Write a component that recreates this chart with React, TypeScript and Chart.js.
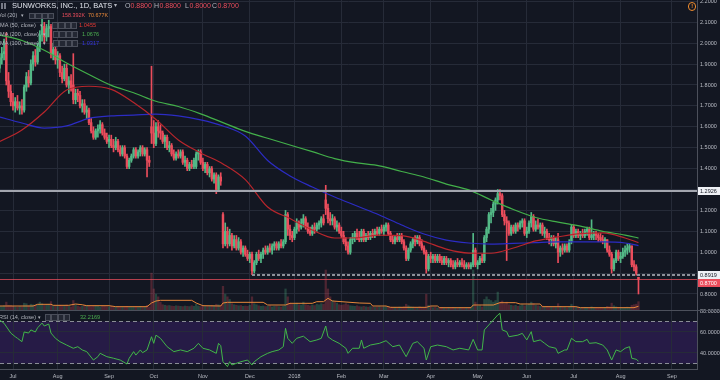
import React, { useEffect, useRef } from 'react';
import { Chart, registerables } from 'chart.js';
Chart.register(...registerables);

const FONT = "'Liberation Sans', Arial, sans-serif";
const BG = '#131722';
const GRID = '#262b38';
const AXIS_LINE = '#4c505b';
const TEXT = '#b9bcc4';
const UP = '#53b987';
const DOWN = '#eb4d5c';
const MA50_COLOR = '#b8262c';
const MA100_COLOR = '#2c2cc4';
const MA200_COLOR = '#43b04a';
const VOLMA_COLOR = '#e8883a';
const RSI_COLOR = '#41b649';

// ---- time axis ----
const MONTH_LABELS = ['Jul', 'Aug', 'Sep', 'Oct', 'Nov', 'Dec', '2018', 'Feb', 'Mar', 'Apr', 'May', 'Jun', 'Jul', 'Aug', 'Sep'];
const MONTH_IDX = [6, 26, 49, 69, 91, 112, 132, 153, 172, 193, 214, 236, 257, 278, 301];
const X_MIN = 0.18;
const X_MAX = 312.2;

// ---- price axis ----
const PRICE_TICKS = [0.8, 0.9, 1.0, 1.1, 1.2, 1.3, 1.4, 1.5, 1.6, 1.7, 1.8, 1.9, 2.0, 2.1, 2.2];
const PRICE_MIN = 0.7234;
const PRICE_MAX = 2.2067;
const RSI_TICKS = [40, 60, 80];
const RSI_MIN = 24.76;
const RSI_MAX = 80.95;
const RSI_UPPER = 70;
const RSI_LOWER = 30;
const VOL_MAX = 5890;

// ---- drawn levels ----
const RESISTANCE = 1.2926;
const SUPPORT = 0.8919;
const SUPPORT_FROM = 113;

// ---- daily OHLC (Jun 2017 .. Aug 2018) ----
const OPEN = [
  1.88, 1.93, 1.95, 1.99, 1.82, 1.77,
  1.72, 1.70, 1.72, 1.69, 1.70, 1.68, 1.79, 1.84, 1.81, 1.90, 1.94, 1.91, 1.98, 2.04, 2.08, 2.03, 2.07, 2.08, 1.95, 1.97,
  1.92, 1.94, 1.86, 1.83, 1.88, 1.80, 1.82, 1.80, 1.73, 1.76, 1.75, 1.70, 1.71, 1.67, 1.68, 1.62, 1.58, 1.55, 1.58, 1.59, 1.61, 1.57, 1.55,
  1.53, 1.54, 1.51, 1.50, 1.53, 1.49, 1.47, 1.50, 1.46, 1.41, 1.44, 1.46, 1.49, 1.46, 1.48, 1.50, 1.47, 1.49, 1.44, 1.60,
  1.57, 1.52, 1.60, 1.58, 1.57, 1.53, 1.55, 1.50, 1.51, 1.47, 1.45, 1.47, 1.46, 1.48, 1.43, 1.44, 1.40, 1.42, 1.41, 1.41, 1.47, 1.48,
  1.43, 1.40, 1.42, 1.38, 1.40, 1.35, 1.37, 1.30, 1.36, 1.18, 1.04, 1.10, 1.04, 1.08, 1.03, 1.06, 1.02, 1.05, 1.00, 1.02, 0.99,
  0.97, 0.99, 0.91, 0.95, 0.99, 0.97, 0.99, 1.01, 1.00, 1.02, 1.01, 1.03, 1.04, 1.02, 1.04, 1.03, 1.05, 1.18, 1.11, 1.08,
  1.07, 1.11, 1.14, 1.12, 1.14, 1.16, 1.12, 1.10, 1.09, 1.12, 1.11, 1.13, 1.14, 1.16, 1.25, 1.21, 1.16, 1.15, 1.16, 1.12, 1.13,
  1.10, 1.08, 1.05, 1.03, 1.00, 1.06, 1.07, 1.09, 1.07, 1.06, 1.10, 1.06, 1.08, 1.07, 1.09, 1.08, 1.10, 1.09, 1.11,
  1.10, 1.12, 1.13, 1.09, 1.06, 1.05, 1.07, 1.06, 1.08, 1.05, 1.02, 0.97, 1.01, 1.04, 1.06, 1.05, 1.07, 1.04, 1.02, 1.00, 0.92,
  0.98, 0.97, 0.98, 0.96, 0.98, 0.96, 0.95, 0.97, 0.95, 0.96, 0.94, 0.93, 0.95, 0.94, 0.95, 0.94, 0.93, 0.94, 0.93, 0.94, 1.01,
  0.94, 0.95, 0.97, 0.96, 1.07, 1.11, 1.18, 1.19, 1.23, 1.25, 1.28, 1.27, 1.18, 1.15, 1.14, 1.09, 1.12, 1.10, 1.13, 1.12, 1.14, 1.15,
  1.09, 1.10, 1.14, 1.17, 1.11, 1.13, 1.12, 1.13, 1.09, 1.10, 1.07, 1.06, 1.07, 1.04, 1.06, 1.00, 1.02, 1.01, 1.03, 1.01, 1.05,
  1.12, 1.08, 1.10, 1.08, 1.09, 1.08, 1.10, 1.11, 1.07, 1.08, 1.09, 1.08, 1.07, 1.06, 1.05, 1.06, 1.01, 0.99, 0.92, 0.96, 1.00,
  0.97, 0.98, 1.00, 1.01, 1.02, 1.03, 0.94, 0.93, 0.88,
];
const HIGH = [
  1.95, 1.98, 2.02, 2.05, 1.86, 1.80,
  1.76, 1.74, 1.75, 1.72, 1.73, 1.80, 1.86, 1.87, 1.92, 1.96, 1.97, 2.00, 2.06, 2.12, 2.10, 2.09, 2.11, 2.09, 2.00, 1.99,
  1.96, 1.95, 1.89, 1.90, 1.90, 1.84, 1.85, 1.95, 1.78, 1.78, 1.77, 1.73, 1.73, 1.70, 1.69, 1.64, 1.60, 1.59, 1.61, 1.63, 1.62, 1.59, 1.57,
  1.56, 1.56, 1.54, 1.55, 1.54, 1.51, 1.51, 1.51, 1.47, 1.45, 1.47, 1.50, 1.50, 1.49, 1.51, 1.51, 1.50, 1.50, 1.46, 1.89,
  1.63, 1.62, 1.63, 1.61, 1.58, 1.56, 1.56, 1.53, 1.52, 1.49, 1.48, 1.49, 1.49, 1.49, 1.46, 1.45, 1.43, 1.44, 1.45, 1.48, 1.49, 1.49,
  1.45, 1.43, 1.43, 1.41, 1.41, 1.38, 1.38, 1.37, 1.38, 1.19, 1.14, 1.12, 1.11, 1.09, 1.08, 1.08, 1.07, 1.06, 1.03, 1.03, 1.01,
  1.00, 1.00, 0.96, 1.00, 1.01, 1.00, 1.02, 1.03, 1.03, 1.04, 1.04, 1.05, 1.05, 1.05, 1.06, 1.06, 1.20, 1.19, 1.13, 1.10,
  1.12, 1.16, 1.15, 1.16, 1.18, 1.17, 1.14, 1.12, 1.13, 1.14, 1.14, 1.15, 1.17, 1.18, 1.32, 1.23, 1.19, 1.18, 1.17, 1.15, 1.14,
  1.12, 1.10, 1.07, 1.05, 1.07, 1.09, 1.10, 1.11, 1.10, 1.11, 1.11, 1.09, 1.10, 1.10, 1.11, 1.11, 1.12, 1.12, 1.13,
  1.13, 1.14, 1.14, 1.10, 1.08, 1.08, 1.09, 1.09, 1.09, 1.06, 1.03, 1.02, 1.05, 1.07, 1.08, 1.08, 1.08, 1.06, 1.03, 1.01, 0.99,
  1.00, 0.99, 0.99, 0.99, 0.99, 0.98, 0.98, 0.98, 0.97, 0.97, 0.96, 0.96, 0.97, 0.96, 0.97, 0.96, 0.95, 0.95, 0.95, 1.09, 1.02,
  0.96, 0.98, 0.99, 1.08, 1.12, 1.19, 1.21, 1.24, 1.26, 1.30, 1.30, 1.28, 1.20, 1.17, 1.15, 1.13, 1.13, 1.14, 1.14, 1.15, 1.16, 1.16,
  1.12, 1.15, 1.19, 1.18, 1.15, 1.16, 1.14, 1.14, 1.12, 1.11, 1.09, 1.08, 1.08, 1.07, 1.09, 1.03, 1.04, 1.04, 1.04, 1.06, 1.13,
  1.13, 1.11, 1.11, 1.10, 1.11, 1.11, 1.12, 1.12, 1.155, 1.10, 1.10, 1.09, 1.09, 1.08, 1.07, 1.06, 1.03, 1.00, 0.97, 1.01, 1.01,
  1.00, 1.02, 1.03, 1.04, 1.04, 1.03, 0.96, 0.94, 0.88,
];
const LOW = [
  1.86, 1.90, 1.92, 1.80, 1.74, 1.70,
  1.68, 1.67, 1.68, 1.66, 1.66, 1.67, 1.77, 1.79, 1.80, 1.87, 1.89, 1.90, 1.96, 2.01, 2.00, 2.01, 2.03, 1.93, 1.92, 1.90,
  1.88, 1.84, 1.81, 1.82, 1.79, 1.76, 1.77, 1.71, 1.71, 1.72, 1.69, 1.67, 1.66, 1.64, 1.61, 1.57, 1.54, 1.54, 1.55, 1.57, 1.56, 1.54, 1.52,
  1.50, 1.50, 1.48, 1.49, 1.48, 1.46, 1.46, 1.45, 1.40, 1.40, 1.43, 1.45, 1.45, 1.45, 1.46, 1.46, 1.46, 1.36, 1.41, 1.52,
  1.50, 1.51, 1.55, 1.54, 1.52, 1.50, 1.49, 1.48, 1.46, 1.44, 1.44, 1.45, 1.45, 1.42, 1.41, 1.39, 1.39, 1.40, 1.40, 1.40, 1.44, 1.42,
  1.39, 1.38, 1.37, 1.36, 1.34, 1.33, 1.28, 1.29, 1.32, 1.02, 1.03, 1.02, 1.03, 1.01, 1.02, 1.01, 1.01, 0.99, 0.98, 0.98, 0.96,
  0.95, 0.892, 0.90, 0.94, 0.96, 0.95, 0.97, 0.99, 0.99, 1.00, 0.99, 1.01, 1.01, 1.01, 1.02, 1.02, 1.04, 1.08, 1.06, 1.05,
  1.06, 1.09, 1.10, 1.11, 1.12, 1.11, 1.09, 1.08, 1.08, 1.09, 1.10, 1.11, 1.12, 1.13, 1.18, 1.14, 1.13, 1.13, 1.11, 1.10, 1.09,
  1.07, 1.04, 1.01, 0.99, 0.99, 1.04, 1.05, 1.06, 1.05, 1.05, 1.05, 1.05, 1.06, 1.06, 1.07, 1.07, 1.08, 1.08, 1.09,
  1.08, 1.10, 1.08, 1.05, 1.04, 1.04, 1.05, 1.05, 1.04, 1.01, 0.96, 0.96, 1.00, 1.02, 1.03, 1.04, 1.03, 1.01, 0.99, 0.90, 0.91,
  0.95, 0.95, 0.95, 0.95, 0.95, 0.94, 0.94, 0.94, 0.93, 0.93, 0.92, 0.92, 0.93, 0.93, 0.93, 0.92, 0.92, 0.92, 0.92, 0.93, 0.93,
  0.92, 0.94, 0.95, 0.95, 1.05, 1.09, 1.14, 1.17, 1.20, 1.23, 1.25, 1.17, 1.13, 0.96, 1.08, 1.08, 1.09, 1.09, 1.10, 1.11, 1.12, 1.08,
  1.07, 1.09, 1.12, 1.10, 1.10, 1.11, 1.09, 1.08, 1.07, 1.06, 1.04, 1.03, 1.03, 1.02, 0.95, 0.98, 0.99, 1.00, 1.00, 1.00, 1.04,
  1.07, 1.07, 1.07, 1.06, 1.07, 1.07, 1.08, 1.06, 1.06, 1.06, 1.06, 1.05, 1.05, 1.04, 1.02, 1.00, 0.98, 0.90, 0.91, 0.95, 0.96,
  0.95, 0.97, 0.98, 0.99, 1.00, 0.93, 0.91, 0.89, 0.80,
];
const CLOSE = [
  1.93, 1.95, 1.96, 1.82, 1.77, 1.72,
  1.70, 1.72, 1.69, 1.70, 1.68, 1.79, 1.84, 1.81, 1.90, 1.94, 1.91, 1.98, 2.04, 2.08, 2.03, 2.07, 2.08, 1.95, 1.97, 1.92,
  1.94, 1.86, 1.83, 1.88, 1.80, 1.82, 1.78, 1.73, 1.76, 1.75, 1.70, 1.71, 1.67, 1.68, 1.62, 1.58, 1.55, 1.58, 1.59, 1.61, 1.57, 1.55, 1.53,
  1.54, 1.51, 1.50, 1.53, 1.49, 1.47, 1.50, 1.46, 1.41, 1.44, 1.46, 1.49, 1.46, 1.48, 1.50, 1.47, 1.49, 1.44, 1.43, 1.57,
  1.52, 1.60, 1.58, 1.57, 1.53, 1.55, 1.50, 1.51, 1.47, 1.45, 1.47, 1.46, 1.48, 1.43, 1.44, 1.40, 1.42, 1.41, 1.44, 1.47, 1.48, 1.43,
  1.40, 1.42, 1.38, 1.40, 1.35, 1.37, 1.30, 1.36, 1.34, 1.04, 1.10, 1.04, 1.08, 1.03, 1.06, 1.02, 1.05, 1.00, 1.02, 0.99, 0.97,
  0.99, 0.91, 0.95, 0.99, 0.97, 0.99, 1.01, 1.00, 1.02, 1.01, 1.03, 1.04, 1.02, 1.04, 1.03, 1.05, 1.18, 1.11, 1.08, 1.07,
  1.11, 1.14, 1.12, 1.14, 1.16, 1.12, 1.10, 1.09, 1.12, 1.11, 1.13, 1.14, 1.16, 1.14, 1.21, 1.16, 1.15, 1.16, 1.12, 1.13, 1.10,
  1.08, 1.05, 1.03, 1.00, 1.06, 1.07, 1.09, 1.07, 1.06, 1.10, 1.06, 1.08, 1.07, 1.09, 1.08, 1.10, 1.09, 1.11, 1.10,
  1.12, 1.13, 1.09, 1.06, 1.05, 1.07, 1.06, 1.08, 1.05, 1.02, 0.97, 1.01, 1.04, 1.06, 1.05, 1.07, 1.04, 1.02, 1.00, 0.92, 0.98,
  0.97, 0.98, 0.96, 0.98, 0.96, 0.95, 0.97, 0.95, 0.96, 0.94, 0.93, 0.95, 0.94, 0.95, 0.94, 0.93, 0.94, 0.93, 0.94, 1.01, 0.94,
  0.95, 0.97, 0.96, 1.07, 1.11, 1.18, 1.19, 1.23, 1.25, 1.28, 1.27, 1.18, 1.15, 1.14, 1.09, 1.12, 1.10, 1.13, 1.12, 1.14, 1.15, 1.09,
  1.10, 1.14, 1.17, 1.11, 1.13, 1.12, 1.13, 1.09, 1.10, 1.07, 1.06, 1.07, 1.04, 1.05, 1.00, 1.02, 1.01, 1.03, 1.01, 1.05, 1.12,
  1.08, 1.10, 1.08, 1.09, 1.08, 1.10, 1.11, 1.07, 1.08, 1.09, 1.08, 1.07, 1.06, 1.05, 1.06, 1.01, 0.99, 0.92, 0.96, 1.00, 0.97,
  0.98, 1.00, 1.01, 1.02, 1.03, 0.94, 0.93, 0.90, 0.87,
];
// volume in thousands
const VOLUME = [
  70, 65, 80, 150, 90, 85,
  70, 60, 55, 65, 60, 130, 120, 80, 110, 100, 90, 110, 150, 120, 90, 100, 110, 160, 80, 70,
  70, 90, 80, 85, 95, 70, 60, 180, 100, 75, 60, 70, 85, 90, 70, 65, 75, 80, 70, 60, 75, 70, 65,
  60, 70, 55, 60, 65, 50, 55, 60, 70, 55, 50, 55, 60, 50, 65, 55, 60, 90, 60, 700,
  400, 300, 250, 150, 100, 90, 80, 85, 75, 70, 80, 75, 70, 65, 75, 70, 65, 80, 70, 110, 75, 65,
  80, 70, 75, 80, 90, 85, 110, 100, 90, 450, 300, 250, 200, 120, 100, 90, 80, 85, 70, 75, 70,
  90, 250, 120, 100, 80, 70, 75, 65, 70, 80, 60, 70, 75, 65, 60, 70, 400, 250, 130, 110,
  110, 130, 100, 95, 150, 100, 90, 80, 95, 85, 110, 100, 120, 110, 760, 400, 250, 180, 150, 130, 100,
  90, 100, 120, 100, 80, 75, 70, 80, 65, 60, 70, 60, 55, 65, 60, 50, 55, 60, 50,
  55, 60, 50, 55, 45, 50, 45, 55, 50, 60, 110, 80, 60, 55, 50, 45, 60, 50, 45, 300, 90,
  60, 45, 50, 40, 45, 50, 40, 35, 45, 40, 50, 40, 35, 45, 40, 35, 40, 45, 45, 760, 150,
  70, 80, 60, 200, 250, 200, 180, 150, 180, 340, 150, 170, 120, 150, 100, 90, 80, 90, 70, 80, 100, 80,
  90, 110, 150, 120, 90, 80, 70, 75, 60, 70, 65, 55, 60, 50, 120, 70, 55, 50, 45, 60, 110,
  70, 55, 50, 45, 40, 50, 45, 40, 60, 45, 40, 35, 45, 40, 50, 70, 60, 130, 80, 60, 50,
  45, 40, 50, 55, 45, 90, 100, 110, 158.392,
];
const VOL_MA_IDX = [0, 15, 17, 23, 24, 31, 34, 37, 39, 49, 52, 66, 68, 70, 72, 86, 88, 91, 99, 100, 102, 118, 120, 128, 130, 140, 142, 145, 147, 149, 161, 166, 167, 173, 175, 191, 193, 196, 197, 211, 212, 221, 224, 231, 233, 242, 243, 258, 260, 284, 286];
const VOL_MA = [76, 76, 108, 108, 89, 89, 114, 100, 82, 82, 63, 63, 133, 171, 184, 184, 133, 82, 76, 133, 146, 146, 95, 95, 127, 127, 158, 158, 222, 171, 133, 127, 76, 76, 51, 51, 76, 76, 44, 44, 95, 95, 139, 139, 114, 114, 63, 63, 44, 44, 70.677];

// ---- moving averages (read every 10 bars) ----
const MA_IDX = [0, 10, 20, 30, 40, 50, 60, 70, 80, 90, 100, 110, 120, 130, 140, 150, 160, 170, 180, 190, 200, 210, 220, 230, 240, 250, 260, 270, 280, 286];
const MA50 = [1.529, 1.585, 1.671, 1.776, 1.794, 1.779, 1.716, 1.635, 1.537, 1.475, 1.422, 1.347, 1.216, 1.161, 1.106, 1.068, 1.069, 1.082, 1.079, 1.052, 1.015, 0.996, 0.995, 1.02, 1.054, 1.073, 1.089, 1.092, 1.068, 1.0455];
const MA100 = [1.647, 1.618, 1.594, 1.604, 1.64, 1.652, 1.656, 1.661, 1.652, 1.633, 1.604, 1.556, 1.439, 1.365, 1.312, 1.264, 1.221, 1.178, 1.13, 1.087, 1.058, 1.044, 1.039, 1.042, 1.046, 1.049, 1.049, 1.049, 1.044, 1.0317];
const MA200 = [2.039, 2.013, 1.966, 1.905, 1.85, 1.798, 1.763, 1.722, 1.697, 1.662, 1.62, 1.578, 1.545, 1.513, 1.481, 1.448, 1.427, 1.413, 1.386, 1.36, 1.326, 1.298, 1.25, 1.204, 1.166, 1.144, 1.125, 1.1, 1.082, 1.0676];

// ---- RSI (14) ----
const RSI_IDX = [0, 2, 5, 7, 8, 10, 11, 13, 14, 16, 17, 19, 20, 22, 23, 25, 27, 30, 33, 35, 37, 39, 42, 44, 45, 48, 51, 54, 57, 58, 60, 61, 63, 64, 66, 68, 69, 70, 72, 75, 78, 81, 84, 87, 89, 91, 94, 97, 98, 99, 100, 102, 103, 104, 108, 111, 113, 114, 117, 120, 122, 125, 127, 128, 129, 131, 133, 136, 139, 142, 144, 146, 147, 149, 152, 155, 156, 158, 161, 162, 163, 166, 170, 173, 176, 179, 182, 185, 187, 190, 191, 193, 196, 200, 203, 206, 210, 212, 214, 216, 217, 219, 221, 223, 224, 225, 227, 228, 232, 234, 236, 238, 239, 242, 244, 246, 249, 250, 253, 254, 256, 258, 261, 263, 264, 267, 270, 272, 274, 276, 278, 280, 282, 283, 285, 286];
const RSI_VAL = [71.4, 68.3, 59, 55.5, 54, 50.8, 60, 59, 62, 60, 64, 68.5, 65.7, 67.6, 59, 54, 50.8, 47.6, 44.5, 46, 42.9, 41.3, 33.3, 36.5, 39.7, 36.5, 35, 33.3, 29.5, 35, 41.3, 38, 42.9, 40.3, 42.9, 55.5, 49.2, 57, 54, 46, 41.3, 42.9, 41.3, 44.5, 49.2, 44.5, 42.9, 39.7, 49.2, 47, 31.7, 27, 31.7, 28.6, 31.7, 33.3, 28.6, 31.7, 36.5, 39.7, 41.3, 42.9, 46, 63.5, 54, 49.2, 54, 56, 50.8, 52.4, 54, 65.7, 55.5, 52.4, 49.2, 44.5, 39.7, 44.5, 44.5, 52.4, 44.5, 47.6, 49.2, 51.7, 46, 47.6, 36.5, 49.2, 50.8, 44.5, 33.3, 46, 47.6, 46, 42.9, 44.5, 42.9, 53, 42.9, 42.9, 62, 66.7, 71.4, 76.2, 77.8, 62, 60.3, 55.5, 57, 58.7, 52.4, 60.3, 50.8, 52.4, 49.2, 46, 44.5, 39.7, 42.9, 42.9, 54, 50.8, 50.8, 53, 49.2, 49.8, 47.6, 42.9, 33.3, 42.9, 41.3, 44.5, 46, 35, 34, 32.2169];

const LAST = CLOSE.length - 1;

function hideNearLevel(v: number) {
  return [RESISTANCE, SUPPORT, CLOSE[LAST]].some((l) => Math.abs(l - v) < 0.03);
}

const levelsPlugin = {
  id: 'levels',
  afterDatasetsDraw(chart: any) {
    const { ctx, chartArea: a, scales } = chart;
    const x = scales.x;
    const y = scales.y;
    ctx.save();
    ctx.beginPath();
    ctx.rect(a.left, a.top, a.right - a.left, a.bottom - a.top);
    ctx.clip();
    const yr = Math.round(y.getPixelForValue(RESISTANCE));
    ctx.strokeStyle = '#a3a6af';
    ctx.lineWidth = 2;
    ctx.beginPath();
    ctx.moveTo(a.left, yr);
    ctx.lineTo(a.right, yr);
    ctx.stroke();
    const ys = Math.round(y.getPixelForValue(SUPPORT));
    ctx.setLineDash([3, 2]);
    ctx.strokeStyle = '#8f929b';
    ctx.beginPath();
    ctx.moveTo(x.getPixelForValue(SUPPORT_FROM), ys);
    ctx.lineTo(a.right, ys);
    ctx.stroke();
    ctx.setLineDash([]);
    const yl = Math.round(y.getPixelForValue(CLOSE[LAST])) + 0.5;
    ctx.strokeStyle = 'rgba(235,77,92,0.75)';
    ctx.lineWidth = 1;
    ctx.beginPath();
    ctx.moveTo(a.left, yl);
    ctx.lineTo(a.right, yl);
    ctx.stroke();
    ctx.restore();
  },
  afterDraw(chart: any) {
    const { ctx, chartArea: a, scales } = chart;
    const y = scales.y;
    const H = 8;
    const boxes = [
      { v: RESISTANCE, bg: '#eef0f5', fg: '#131722' },
      { v: SUPPORT, bg: '#eef0f5', fg: '#131722' },
      { v: CLOSE[LAST], bg: DOWN, fg: '#ffffff' },
    ]
      .map((b) => ({ ...b, cy: y.getPixelForValue(b.v) }))
      .sort((p, q) => p.cy - q.cy);
    for (let i = 1; i < boxes.length; i++) {
      if (boxes[i].cy < boxes[i - 1].cy + H) boxes[i].cy = boxes[i - 1].cy + H;
    }
    ctx.save();
    ctx.font = `5.5px ${FONT}`;
    ctx.textBaseline = 'middle';
    ctx.textAlign = 'left';
    for (const b of boxes) {
      ctx.fillStyle = b.bg;
      ctx.fillRect(a.right + 1, Math.round(b.cy - H / 2), 22, H);
      ctx.fillStyle = b.fg;
      ctx.fillText(b.v.toFixed(4), a.right + 3, b.cy + 0.5);
    }
    ctx.restore();
  },
};

const rsiPlugin = {
  id: 'rsiBand',
  beforeDraw(chart: any) {
    const { ctx, chartArea: a, scales } = chart;
    const y = scales.y;
    const t = y.getPixelForValue(RSI_UPPER);
    const b = y.getPixelForValue(RSI_LOWER);
    ctx.save();
    ctx.fillStyle = '#261b46';
    ctx.fillRect(a.left, t, a.right - a.left, b - t);
    ctx.restore();
  },
  beforeDatasetsDraw(chart: any) {
    const { ctx, chartArea: a, scales } = chart;
    const y = scales.y;
    ctx.save();
    ctx.strokeStyle = '#8a8d96';
    ctx.lineWidth = 1;
    ctx.setLineDash([4, 3]);
    for (const v of [RSI_UPPER, RSI_LOWER]) {
      const py = Math.round(y.getPixelForValue(v)) + 0.5;
      ctx.beginPath();
      ctx.moveTo(a.left, py);
      ctx.lineTo(a.right, py);
      ctx.stroke();
    }
    ctx.restore();
  },
  afterDraw(chart: any) {
    const { ctx, chartArea: a } = chart;
    ctx.save();
    ctx.strokeStyle = AXIS_LINE;
    ctx.lineWidth = 1;
    ctx.beginPath();
    ctx.moveTo(0, a.top + 0.5);
    ctx.lineTo(chart.width, a.top + 0.5);
    ctx.stroke();
    ctx.restore();
  },
};

function topConfig(): any {
  const idx = OPEN.map((_, i) => i);
  const colors = CLOSE.map((c, i) => (c >= OPEN[i] ? UP : DOWN));
  const volColors = CLOSE.map((c, i) => (c >= OPEN[i] ? 'rgba(83,185,135,0.28)' : 'rgba(235,77,92,0.28)'));
  const line = (ids: number[], vals: number[], color: string, order: number, axis = 'y') => ({
    type: 'line',
    data: ids.map((x, i) => ({ x, y: vals[i] })),
    borderColor: color,
    borderWidth: 1.2,
    pointRadius: 0,
    cubicInterpolationMode: 'monotone',
    order,
    yAxisID: axis,
  });
  return {
    type: 'bar',
    data: {
      datasets: [
        line(MA_IDX, MA50, MA50_COLOR, 1),
        line(MA_IDX, MA100, MA100_COLOR, 2),
        line(MA_IDX, MA200, MA200_COLOR, 3),
        {
          type: 'bar',
          data: idx.map((i) => ({ x: i, y: [Math.min(OPEN[i], CLOSE[i]), Math.max(OPEN[i], CLOSE[i])] })),
          backgroundColor: colors,
          barThickness: 1.8,
          minBarLength: 1,
          grouped: false,
          order: 5,
          yAxisID: 'y',
        },
        {
          type: 'bar',
          data: idx.map((i) => ({ x: i, y: [LOW[i], HIGH[i]] })),
          backgroundColor: colors,
          barThickness: 1,
          grouped: false,
          order: 6,
          yAxisID: 'y',
        },
        { ...line(VOL_MA_IDX, VOL_MA, VOLMA_COLOR, 7, 'vol'), cubicInterpolationMode: 'default', tension: 0, borderWidth: 1 },
        {
          type: 'bar',
          data: idx.map((i) => ({ x: i, y: VOLUME[i] })),
          backgroundColor: volColors,
          barThickness: 1.6,
          grouped: false,
          order: 8,
          yAxisID: 'vol',
        },
      ],
    },
    options: {
      responsive: false,
      animation: false,
      devicePixelRatio: 1,
      events: [],
      layout: { padding: 0 },
      plugins: { legend: { display: false }, tooltip: { enabled: false } },
      scales: {
        x: {
          type: 'linear',
          min: X_MIN,
          max: X_MAX,
          offset: false,
          grid: { color: GRID, drawTicks: false, offset: false },
          border: { display: false },
          ticks: { display: false },
          afterBuildTicks: (s: any) => {
            s.ticks = MONTH_IDX.map((v) => ({ value: v }));
          },
          afterFit: (s: any) => {
            s.height = 0;
            s.paddingLeft = 0;
            s.paddingRight = 0;
          },
        },
        y: {
          position: 'right',
          min: PRICE_MIN,
          max: PRICE_MAX,
          grid: { color: GRID, drawTicks: false },
          border: { color: AXIS_LINE },
          ticks: {
            color: TEXT,
            font: { size: 5.5, family: FONT },
            padding: 3,
            callback: (v: number) => (hideNearLevel(v) ? '' : v.toFixed(4)),
          },
          afterBuildTicks: (s: any) => {
            s.ticks = PRICE_TICKS.map((v) => ({ value: v }));
          },
          afterFit: (s: any) => {
            s.width = 23;
            s.paddingTop = 0;
            s.paddingBottom = 0;
          },
        },
        vol: { position: 'right', display: false, min: 0, max: VOL_MAX },
      },
    },
    plugins: [levelsPlugin],
  };
}

function rsiConfig(): any {
  return {
    type: 'line',
    data: {
      datasets: [
        {
          data: RSI_IDX.map((x, i) => ({ x, y: RSI_VAL[i] })),
          borderColor: RSI_COLOR,
          borderWidth: 1,
          pointRadius: 0,
          tension: 0,
        },
      ],
    },
    options: {
      responsive: false,
      animation: false,
      devicePixelRatio: 1,
      events: [],
      layout: { padding: { top: 10 } },
      plugins: { legend: { display: false }, tooltip: { enabled: false } },
      scales: {
        x: {
          type: 'linear',
          min: X_MIN,
          max: X_MAX,
          grid: { color: GRID, drawTicks: false },
          border: { color: AXIS_LINE },
          ticks: {
            color: TEXT,
            font: { size: 5.5, family: FONT },
            padding: 4,
            autoSkip: false,
            maxRotation: 0,
            callback: (_v: number, i: number) => MONTH_LABELS[i],
          },
          afterBuildTicks: (s: any) => {
            s.ticks = MONTH_IDX.map((v) => ({ value: v }));
          },
          afterFit: (s: any) => {
            s.height = 11;
            s.paddingLeft = 0;
            s.paddingRight = 0;
          },
        },
        y: {
          position: 'right',
          min: RSI_MIN,
          max: RSI_MAX,
          grid: { color: GRID, drawTicks: false },
          border: { color: AXIS_LINE },
          ticks: { color: TEXT, font: { size: 5.5, family: FONT }, padding: 3, callback: (v: number) => v.toFixed(4) },
          afterBuildTicks: (s: any) => {
            s.ticks = RSI_TICKS.map((v) => ({ value: v }));
          },
          afterFit: (s: any) => {
            s.width = 23;
            s.paddingTop = 0;
            s.paddingBottom = 0;
          },
        },
      },
    },
    plugins: [rsiPlugin],
  };
}

function Txt(props: { x: number; y: number; size: number; color: string; children: any; weight?: number }) {
  const lh = props.size * 1.25;
  return (
    <div
      style={{
        position: 'absolute',
        left: props.x,
        top: props.y - lh / 2,
        height: lh,
        lineHeight: `${lh}px`,
        fontSize: props.size,
        color: props.color,
        fontFamily: FONT,
        fontWeight: props.weight || 400,
        whiteSpace: 'nowrap',
      }}
    >
      {props.children}
    </div>
  );
}

function Boxes(props: { x: number; y: number }) {
  return (
    <>
      {[0, 1, 2, 3].map((i) => (
        <div
          key={i}
          style={{
            position: 'absolute',
            left: props.x + i * 6.3,
            top: props.y - 2.7,
            width: 4.4,
            height: 4.4,
            border: '0.6px solid #4a4e5a',
            background: '#232733',
          }}
        />
      ))}
    </>
  );
}

export default function App() {
  const topRef = useRef<HTMLCanvasElement>(null);
  const rsiRef = useRef<HTMLCanvasElement>(null);

  useEffect(() => {
    document.body.style.margin = '0';
    document.body.style.background = BG;
    Chart.defaults.font.family = FONT;
    const top = new Chart(topRef.current as HTMLCanvasElement, topConfig());
    const rsi = new Chart(rsiRef.current as HTMLCanvasElement, rsiConfig());
    return () => {
      top.destroy();
      rsi.destroy();
    };
  }, []);

  const GRAY = '#b2b5be';
  const f4 = (v: number) => v.toFixed(4);
  return (
    <div style={{ position: 'absolute', left: 0, top: 0, width: 720, height: 380, background: BG, overflow: 'hidden' }}>
      <canvas ref={topRef} width={720} height={310} style={{ position: 'absolute', left: 0, top: 0 }} />
      <canvas ref={rsiRef} width={720} height={80} style={{ position: 'absolute', left: 0, top: 300 }} />

      <div style={{ position: 'absolute', left: 1, top: 3, width: 1.5, height: 6, background: '#787b86' }} />
      <div style={{ position: 'absolute', left: 4, top: 3, width: 1.5, height: 6, background: '#787b86' }} />
      <Txt x={12} y={6} size={7.5} color="#dfe2ea">SUNWORKS, INC., 1D, BATS</Txt>
      <Txt x={114} y={6} size={6} color={GRAY}>▾</Txt>
      <Txt x={125} y={6} size={7} color={GRAY}>O</Txt>
      <Txt x={130.5} y={6} size={7} color={DOWN}>{f4(OPEN[LAST])}</Txt>
      <Txt x={154} y={6} size={7} color={GRAY}>H</Txt>
      <Txt x={159.5} y={6} size={7} color={DOWN}>{f4(HIGH[LAST])}</Txt>
      <Txt x={185} y={6} size={7} color={GRAY}>L</Txt>
      <Txt x={189.5} y={6} size={7} color={DOWN}>{f4(LOW[LAST])}</Txt>
      <Txt x={212} y={6} size={7} color={GRAY}>C</Txt>
      <Txt x={217.5} y={6} size={7} color={DOWN}>{f4(CLOSE[LAST])}</Txt>

      <Txt x={-2} y={15.3} size={5.6} color={GRAY}>Vol (20)</Txt>
      <Txt x={21} y={15.3} size={5} color={GRAY}>▾</Txt>
      <Boxes x={29} y={15.3} />
      <Txt x={62} y={15.3} size={5.4} color={DOWN}>{VOLUME[LAST].toFixed(3)}K</Txt>
      <Txt x={88} y={15.3} size={5.4} color={VOLMA_COLOR}>{VOL_MA[VOL_MA.length - 1].toFixed(3)}K</Txt>

      <Txt x={0} y={25} size={5.6} color={GRAY}>MA (50, close)</Txt>
      <Txt x={40} y={25} size={5} color={GRAY}>▾</Txt>
      <Boxes x={52} y={25} />
      <Txt x={79} y={25} size={5.6} color="#e53935">{f4(MA50[MA50.length - 1])}</Txt>

      <Txt x={0} y={34} size={5.6} color={GRAY}>MA (200, close)</Txt>
      <Txt x={43} y={34} size={5} color={GRAY}>▾</Txt>
      <Boxes x={53} y={34} />
      <Txt x={82} y={34} size={5.6} color="#4caf50">{f4(MA200[MA200.length - 1])}</Txt>

      <Txt x={0} y={43} size={5.6} color={GRAY}>MA (100, close)</Txt>
      <Txt x={43} y={43} size={5} color={GRAY}>▾</Txt>
      <Boxes x={53} y={43} />
      <Txt x={82} y={43} size={5.6} color="#3535e0">{f4(MA100[MA100.length - 1])}</Txt>

      <Txt x={-1} y={317} size={5.6} color={GRAY}>RSI (14, close)</Txt>
      <Txt x={38} y={317} size={5} color={GRAY}>▾</Txt>
      <Boxes x={45} y={317} />
      <Txt x={80} y={317} size={5.6} color="#4caf50">{RSI_VAL[RSI_VAL.length - 1].toFixed(4)}</Txt>

      <div
        style={{
          position: 'absolute',
          left: 687.8,
          top: 2.4,
          width: 6.6,
          height: 6.6,
          borderRadius: '50%',
          border: '1px solid #f08c2e',
          color: '#f08c2e',
          fontSize: 5.5,
          lineHeight: '6.6px',
          textAlign: 'center',
          fontFamily: FONT,
          fontWeight: 700,
        }}
      >
        !
      </div>
    </div>
  );
}
